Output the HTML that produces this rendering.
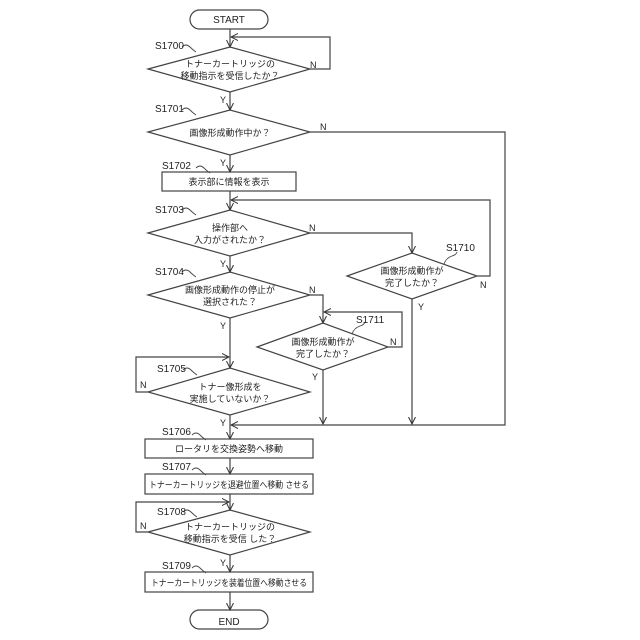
<!DOCTYPE html>
<html><head><meta charset="utf-8"><style>html,body{margin:0;padding:0;background:#fff}svg{display:block}text{font-family:"Liberation Sans","Noto Sans CJK JP",sans-serif;fill:#222}</style></head><body>
<svg width="640" height="640" viewBox="0 0 640 640" xmlns="http://www.w3.org/2000/svg">
<defs><marker id="a" markerWidth="8" markerHeight="8" refX="7" refY="4" orient="auto" markerUnits="userSpaceOnUse"><path d="M0,0.5 L7,4 L0,7.5" fill="none" stroke="#333" stroke-width="1"/></marker></defs>
<g fill="none" stroke="#444" stroke-width="1.2">
<rect x="190" y="10" width="78" height="19" rx="9.5"/>
<line x1="230" y1="29" x2="230" y2="47" marker-end="url(#a)"/>
<polygon points="148,69 230,47 310,69 230,92"/>
<polyline points="310,69 330,69 330,37 231,37" marker-end="url(#a)"/>
<line x1="230" y1="92" x2="230" y2="110" marker-end="url(#a)"/>
<polygon points="148,132 230,110 310,132 230,155"/>
<polyline points="310,132 505,132 505,425 231,425" marker-end="url(#a)"/>
<line x1="230" y1="155" x2="230" y2="172" marker-end="url(#a)"/>
<rect x="162" y="172" width="134" height="19"/>
<line x1="230" y1="191" x2="230" y2="210" marker-end="url(#a)"/>
<polygon points="148,233 230,210 310,233 230,256"/>
<polyline points="310,233 412,233 412,253" marker-end="url(#a)"/>
<polygon points="347,276 412,253 477,276 412,299"/>
<polyline points="477,276 490,276 490,200 231,200" marker-end="url(#a)"/>
<line x1="412" y1="299" x2="412" y2="424" marker-end="url(#a)"/>
<line x1="230" y1="256" x2="230" y2="272" marker-end="url(#a)"/>
<polygon points="148,295 230,272 310,295 230,318"/>
<polyline points="310,295 323,295 323,323" marker-end="url(#a)"/>
<polygon points="257,347 323,323 388,347 323,370"/>
<polyline points="388,347 402,347 402,312 324,312" marker-end="url(#a)"/>
<line x1="323" y1="370" x2="323" y2="424" marker-end="url(#a)"/>
<line x1="230" y1="318" x2="230" y2="368" marker-end="url(#a)"/>
<polygon points="148,392 230,368 310,392 230,415"/>
<polyline points="148,392 136,392 136,357 229,357" marker-end="url(#a)"/>
<line x1="230" y1="415" x2="230" y2="439" marker-end="url(#a)"/>
<rect x="145" y="439" width="168" height="19"/>
<line x1="230" y1="458" x2="230" y2="474" marker-end="url(#a)"/>
<rect x="145" y="474" width="168" height="20"/>
<line x1="230" y1="494" x2="230" y2="510" marker-end="url(#a)"/>
<polygon points="148,532 230,510 310,532 230,555"/>
<polyline points="148,532 136,532 136,502 229,502" marker-end="url(#a)"/>
<line x1="230" y1="555" x2="230" y2="572" marker-end="url(#a)"/>
<rect x="145" y="572" width="168" height="20"/>
<line x1="230" y1="592" x2="230" y2="610" marker-end="url(#a)"/>
<rect x="190" y="610" width="78" height="19" rx="9.5"/>
<g stroke-width="0.9">
<path d="M182,47 q4,-4 8,0 q3,3 6,5"/>
<path d="M182,110 q4,-4 8,0 q3,3 6,5"/>
<path d="M196,168 q4,-4 8,0 q3,3 6,5"/>
<path d="M182,210 q4,-4 8,0 q3,3 6,5"/>
<path d="M182,272 q4,-4 8,0 q3,3 6,5"/>
<path d="M183,370 q4,-4 8,0 q3,3 6,5"/>
<path d="M192,435 q4,-4 8,0 q3,3 6,5"/>
<path d="M192,470 q4,-4 8,0 q3,3 6,5"/>
<path d="M183,512 q4,-4 8,0 q3,3 6,5"/>
<path d="M192,568 q4,-4 8,0 q3,3 6,5"/>
<path d="M444,264 q2,-6 8,-8 q4,-1 5,-4"/>
<path d="M352,334 q2,-6 8,-8 q4,-1 5,-4"/>
</g></g>
<g font-size="10" text-anchor="middle">
<text x="229" y="23">START</text>
<text x="229" y="625">END</text>
<text x="230" y="67" font-size="9">トナーカートリッジの</text>
<text x="230" y="79" font-size="9">移動指示を受信したか？</text>
<text x="230" y="136" font-size="9">画像形成動作中か？</text>
<text x="229" y="185" font-size="9">表示部に情報を表示</text>
<text x="230" y="231" font-size="9">操作部へ</text>
<text x="230" y="243" font-size="9">入力がされたか？</text>
<text x="412" y="274" font-size="9">画像形成動作が</text>
<text x="412" y="286" font-size="9">完了したか？</text>
<text x="230" y="293" font-size="9">画像形成動作の停止が</text>
<text x="230" y="305" font-size="9">選択された？</text>
<text x="323" y="345" font-size="9">画像形成動作が</text>
<text x="323" y="357" font-size="9">完了したか？</text>
<text x="230" y="390" font-size="9">トナー像形成を</text>
<text x="230" y="402" font-size="9">実施していないか？</text>
<text x="229" y="452" font-size="9">ロータリを交換姿勢へ移動</text>
<text x="229" y="488" font-size="9" textLength="160" lengthAdjust="spacingAndGlyphs">トナーカートリッジを退避位置へ移動 させる</text>
<text x="230" y="530" font-size="9">トナーカートリッジの</text>
<text x="230" y="542" font-size="9">移動指示を受信 した？</text>
<text x="229" y="586" font-size="9" textLength="156" lengthAdjust="spacingAndGlyphs">トナーカートリッジを装着位置へ移動させる</text>
</g>
<g font-size="10">
<text x="155" y="49">S1700</text>
<text x="155" y="112">S1701</text>
<text x="162" y="169">S1702</text>
<text x="155" y="213">S1703</text>
<text x="155" y="275">S1704</text>
<text x="157" y="372">S1705</text>
<text x="162" y="435">S1706</text>
<text x="162" y="470">S1707</text>
<text x="157" y="515">S1708</text>
<text x="162" y="569">S1709</text>
<text x="446" y="251">S1710</text>
<text x="356" y="323">S1711</text>
<text x="310" y="68" font-size="9">N</text>
<text x="320" y="130" font-size="9">N</text>
<text x="309" y="231" font-size="9">N</text>
<text x="480" y="288" font-size="9">N</text>
<text x="309" y="293" font-size="9">N</text>
<text x="390" y="345" font-size="9">N</text>
<text x="140" y="388" font-size="9">N</text>
<text x="140" y="529" font-size="9">N</text>
<text x="220" y="103" font-size="9">Y</text>
<text x="220" y="166" font-size="9">Y</text>
<text x="220" y="267" font-size="9">Y</text>
<text x="220" y="329" font-size="9">Y</text>
<text x="220" y="426" font-size="9">Y</text>
<text x="220" y="566" font-size="9">Y</text>
<text x="418" y="310" font-size="9">Y</text>
<text x="312" y="380" font-size="9">Y</text>
</g>
</svg>
</body></html>
